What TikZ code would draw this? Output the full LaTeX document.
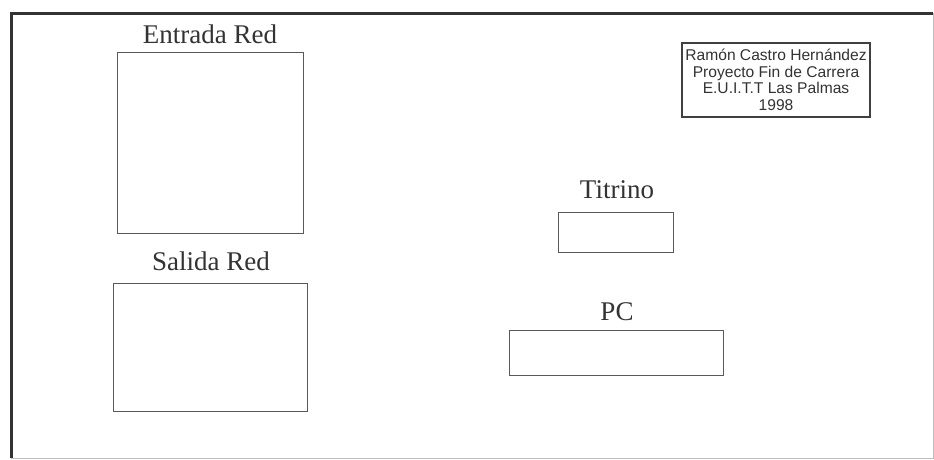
\documentclass[tikz,border=0pt]{standalone}
\usepackage{fontspec}
\setmainfont{Liberation Serif}
\newfontfamily\authorfont{Liberation Sans}
\begin{document}
\begin{tikzpicture}[x=1pt,y=-1pt,
  box/.style={draw=black!65,line width=1pt,inner sep=0pt,outer sep=0pt},
  lbl/.style={anchor=base,font=\fontsize{27}{30}\selectfont,text=black!80,inner sep=0pt},
  author/.style={draw=black!75,line width=1.3pt,inner sep=0pt,outer sep=0pt,
    minimum width=188pt,minimum height=74pt,align=center,text=black!80,
    font=\authorfont\fontsize{15.6}{16.5}\selectfont}]
\useasboundingbox (0,0) rectangle (934,459);
\fill[white] (0,0) rectangle (934,459);
% frame
\coordinate (fTL) at (11,13);
\coordinate (fTR) at (933,13);
\coordinate (fBL) at (11,458);
\coordinate (fBR) at (933,458);
\draw[black!80,line width=3pt] (fBL) -- (fTL) -- (fTR);
\draw[black!25,line width=0.8pt] (fTR) -- (fBR) -- (fBL);
% boxes
\node[box,minimum width=186pt,minimum height=181pt] (entrada) at (210,142.5) {};
\node[lbl] (entradaLbl) at (210,43) {Entrada Red};
\node[box,minimum width=194pt,minimum height=128pt] (salida) at (210,347) {};
\node[lbl] (salidaLbl) at (211,270) {Salida Red};
\node[box,minimum width=115pt,minimum height=40pt] (titrino) at (615.5,232) {};
\node[lbl] (titrinoLbl) at (617,198) {Titrino};
\node[box,minimum width=214pt,minimum height=45pt] (pc) at (616,352.5) {};
\node[lbl] (pcLbl) at (617,320) {PC};
\node[author] (autor) at (776,80) {Ramón Castro Hernández\\Proyecto Fin de Carrera\\E.U.I.T.T Las Palmas\\1998};
\end{tikzpicture}
\end{document}
